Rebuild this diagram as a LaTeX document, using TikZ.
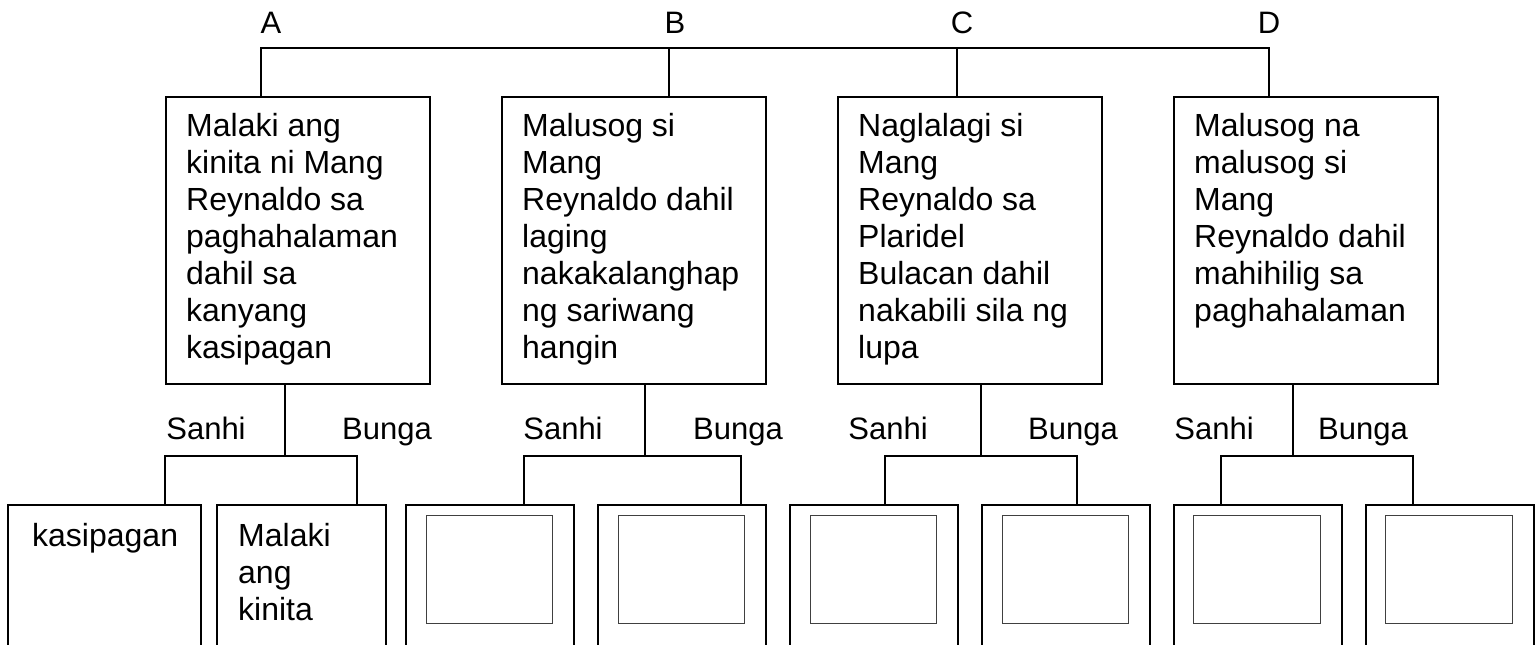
\documentclass[tikz,border=0pt]{standalone}
\usepackage{fontspec}
\setmainfont{Liberation Sans}
\begin{document}
\begin{tikzpicture}[x=1pt,y=-1pt,
  conn/.style={line width=2pt, line join=miter},
  bigbox/.style={draw, line width=2pt, inner sep=0pt, minimum width=264pt, minimum height=287pt, anchor=north west},
  smallbox/.style={draw, line width=2pt, inner sep=0pt, minimum width=168pt, minimum height=170pt, anchor=north west},
  innerbox/.style={draw=black!75, line width=1.3pt, inner sep=0pt, minimum width=126pt, minimum height=108pt, anchor=north west},
  boxtext/.style={anchor=north west, inner sep=0pt, align=left, font=\fontsize{32}{37}\selectfont},
  lbl/.style={anchor=base, inner sep=0pt, font=\fontsize{31}{37}\selectfont},
  letter/.style={anchor=base, inner sep=0pt, font=\fontsize{31}{37}\selectfont}]
\fill[white] (0,0) rectangle (1540,645);
\clip (0,0) rectangle (1540,645);
% top boxes
\node[bigbox] (boxA) at (165,96) {};
\node[bigbox] (boxB) at (501,96) {};
\node[bigbox] (boxC) at (837,96) {};
\node[bigbox] (boxD) at (1173,96) {};
\node[boxtext] (txtA) at (186,113) {Malaki ang\\kinita ni Mang\\Reynaldo sa\\paghahalaman\\dahil sa\\kanyang\\kasipagan};
\node[boxtext] (txtB) at (522,113) {Malusog si\\Mang\\Reynaldo dahil\\laging\\nakakalanghap\\ng sariwang\\hangin};
\node[boxtext] (txtC) at (858,113) {Naglalagi si\\Mang\\Reynaldo sa\\Plaridel\\Bulacan dahil\\nakabili sila ng\\lupa};
\node[boxtext] (txtD) at (1194,113) {Malusog na\\malusog si\\Mang\\Reynaldo dahil\\mahihilig sa\\paghahalaman};
% letters
\node[letter] (labA) at (271,33) {A};
\node[letter] (labB) at (675,33) {B};
\node[letter] (labC) at (962,33) {C};
\node[letter] (labD) at (1269,33) {D};
% top bar
\coordinate (tA) at (261,48);
\coordinate (tB) at (669,48);
\coordinate (tC) at (957,48);
\coordinate (tD) at (1269,48);
\draw[conn] (boxA.north -| tA) -- (tA) -- (tD) -- (boxD.north -| tD);
\draw[conn] (tB) -- (boxB.north -| tB);
\draw[conn] (tC) -- (boxC.north -| tC);
% bottom boxes
\node[smallbox, minimum width=193pt] (b1) at (7,504) {};
\node[smallbox, minimum width=169pt] (b2) at (216,504) {};
\node[smallbox] (b3) at (405,504) {};
\node[smallbox] (b4) at (597,504) {};
\node[smallbox] (b5) at (789,504) {};
\node[smallbox] (b6) at (981,504) {};
\node[smallbox] (b7) at (1173,504) {};
\node[smallbox] (b8) at (1365,504) {};
\node[innerbox] (i3) at (426,515) {};
\node[innerbox] (i4) at (618,515) {};
\node[innerbox] (i5) at (810,515) {};
\node[innerbox] (i6) at (1002,515) {};
\node[innerbox, minimum width=127pt] (i7) at (1193,515) {};
\node[innerbox, minimum width=127pt] (i8) at (1385,515) {};
\node[boxtext] (t1) at (32,523) {kasipagan};
\node[boxtext] (t2) at (238,523) {Malaki\\ang\\kinita};
% Sanhi / Bunga labels
\node[lbl] (sA) at (206,439) {Sanhi};
\node[lbl] (gA) at (387,439) {Bunga};
\node[lbl] (sB) at (563,439) {Sanhi};
\node[lbl] (gB) at (738,439) {Bunga};
\node[lbl] (sC) at (888,439) {Sanhi};
\node[lbl] (gC) at (1073,439) {Bunga};
\node[lbl] (sD) at (1214,439) {Sanhi};
\node[lbl] (gD) at (1363,439) {Bunga};
% lower connectors
\coordinate (jA) at (285,456); \coordinate (lA) at (165,456); \coordinate (rA) at (357,456);
\coordinate (jB) at (645,456); \coordinate (lB) at (524,456); \coordinate (rB) at (741,456);
\coordinate (jC) at (981,456); \coordinate (lC) at (885,456); \coordinate (rC) at (1077,456);
\coordinate (jD) at (1293,456); \coordinate (lD) at (1221,456); \coordinate (rD) at (1413,456);
\draw[conn] (boxA.south -| jA) -- (jA);
\draw[conn] (b1.north -| lA) -- (lA) -- (rA) -- (b2.north -| rA);
\draw[conn] (boxB.south -| jB) -- (jB);
\draw[conn] (b3.north -| lB) -- (lB) -- (rB) -- (b4.north -| rB);
\draw[conn] (boxC.south -| jC) -- (jC);
\draw[conn] (b5.north -| lC) -- (lC) -- (rC) -- (b6.north -| rC);
\draw[conn] (boxD.south -| jD) -- (jD);
\draw[conn] (b7.north -| lD) -- (lD) -- (rD) -- (b8.north -| rD);
\end{tikzpicture}
\end{document}
